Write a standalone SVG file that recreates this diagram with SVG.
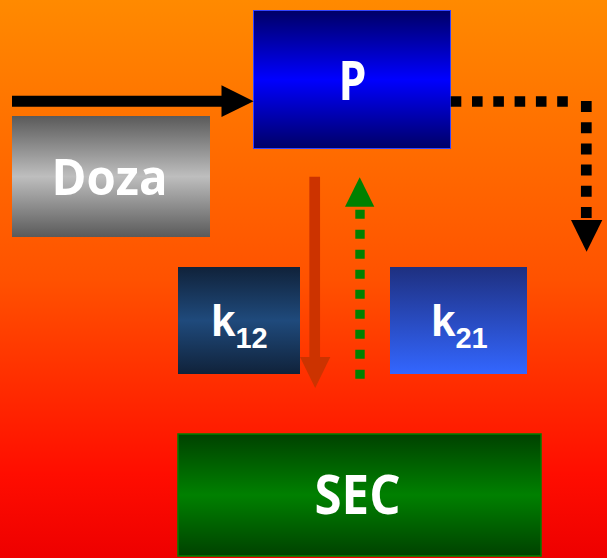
<svg xmlns="http://www.w3.org/2000/svg" width="607" height="558" viewBox="0 0 607 558">
  <defs>
    <linearGradient id="bg" x1="0" y1="0" x2="0" y2="1">
      <stop offset="0" stop-color="#FF8A00"/>
      <stop offset="0.5" stop-color="#FF5200"/>
      <stop offset="0.85" stop-color="#FF0D00"/>
      <stop offset="1" stop-color="#EE0000"/>
    </linearGradient>
    <linearGradient id="gP" x1="0" y1="0" x2="0" y2="1">
      <stop offset="0" stop-color="#000066"/>
      <stop offset="0.5" stop-color="#0000FF"/>
      <stop offset="1" stop-color="#000066"/>
    </linearGradient>
    <linearGradient id="gDoza" x1="0" y1="0" x2="0" y2="1">
      <stop offset="0" stop-color="#5A5A5A"/>
      <stop offset="0.5" stop-color="#BEBEBE"/>
      <stop offset="1" stop-color="#5A5A5A"/>
    </linearGradient>
    <linearGradient id="gK12" x1="0" y1="0" x2="0" y2="1">
      <stop offset="0" stop-color="#10223A"/>
      <stop offset="0.5" stop-color="#1F4A7C"/>
      <stop offset="1" stop-color="#10223A"/>
    </linearGradient>
    <linearGradient id="gK21" x1="0" y1="0" x2="0" y2="1">
      <stop offset="0" stop-color="#1E3080"/>
      <stop offset="1" stop-color="#3366FF"/>
    </linearGradient>
    <linearGradient id="gSec" x1="0" y1="0" x2="0" y2="1">
      <stop offset="0" stop-color="#004200"/>
      <stop offset="0.5" stop-color="#008000"/>
      <stop offset="1" stop-color="#004200"/>
    </linearGradient>
  </defs>
  <style>
    .lbl { fill: #FFFFFF; font-family: "Open Sans", "Noto Sans", sans-serif; font-weight: bold; }
    .rate { fill: #FFFFFF; font-family: "Liberation Sans", Arial, sans-serif; font-weight: bold; }
  </style>

  <rect x="0" y="0" width="607" height="558" fill="url(#bg)"/>

  <!-- compartment P -->
  <g id="node-P">
    <rect x="253.5" y="10.5" width="197" height="138" fill="url(#gP)" stroke="#3344FF" stroke-width="1"/>
    <text class="lbl" x="338.5" y="100" font-size="54" textLength="28" lengthAdjust="spacingAndGlyphs">P</text>
  </g>

  <!-- dose -->
  <g id="node-Doza">
    <rect x="12" y="116" width="198" height="121" fill="url(#gDoza)"/>
    <text class="lbl" x="51.5" y="195" font-size="51" textLength="116" lengthAdjust="spacingAndGlyphs">Doza</text>
  </g>

  <!-- rate constants -->
  <g id="node-k12">
    <rect x="178" y="267" width="122" height="107" fill="url(#gK12)"/>
    <text class="rate" x="211" y="336" font-size="44">k<tspan font-size="29" dy="12">12</tspan></text>
  </g>
  <g id="node-k21">
    <rect x="390" y="267" width="137" height="107" fill="url(#gK21)"/>
    <text class="rate" x="431" y="336" font-size="44">k<tspan font-size="29" dy="12">21</tspan></text>
  </g>

  <!-- secondary compartment -->
  <g id="node-SEC">
    <rect x="178" y="434" width="363" height="122" fill="url(#gSec)" stroke="#008000" stroke-width="1.5"/>
    <text class="lbl" x="314.5" y="514" font-size="54" textLength="86" lengthAdjust="spacingAndGlyphs">SEC</text>
  </g>

  <g id="connectors">
    <!-- dose input -->
    <line x1="12" y1="101.2" x2="223" y2="101.2" stroke="#000000" stroke-width="11"/>
    <polygon points="221.5,85.3 253.6,101.2 221.5,117" fill="#000000"/>
    <!-- elimination (dotted) -->
    <line x1="450.7" y1="101.5" x2="568" y2="101.5" stroke="#000000" stroke-width="10.7" stroke-dasharray="10.6 10.7"/>
    <line x1="586.3" y1="101" x2="586.3" y2="219" stroke="#000000" stroke-width="10.7" stroke-dasharray="11 10.2"/>
    <polygon points="571,220 602.3,220 586.6,251.7" fill="#000000"/>
    <!-- P to SEC -->
    <line x1="314.7" y1="176.7" x2="314.7" y2="358" stroke="#CC3300" stroke-width="10.7"/>
    <polygon points="300,357 330.3,357 315.2,388" fill="#CC3300"/>
    <!-- SEC to P (dotted) -->
    <line x1="360" y1="378.7" x2="360" y2="209" stroke="#008000" stroke-width="9.4" stroke-dasharray="9 11"/>
    <polygon points="345,206.7 374.3,206.7 359.7,177.3" fill="#008000"/>
  </g>
</svg>
